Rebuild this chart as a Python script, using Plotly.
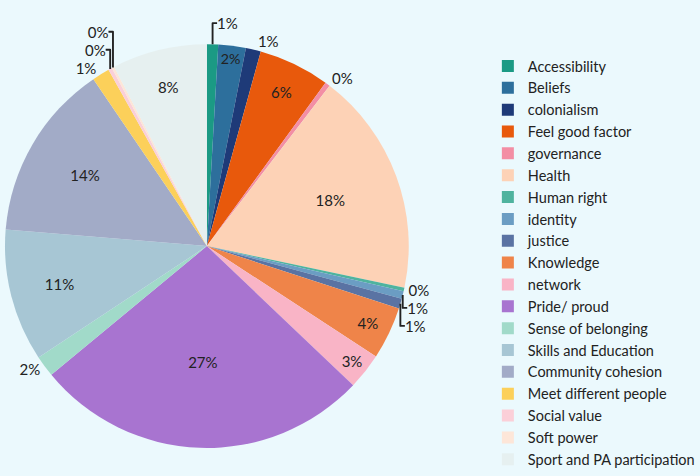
import plotly.graph_objects as go

categories = ["Accessibility", "Beliefs", "colonialism", "Feel good factor", "governance",
              "Health", "Human right", "identity", "justice", "Knowledge", "network",
              "Pride/ proud", "Sense of belonging", "Skills and Education",
              "Community cohesion", "Meet different people", "Social value",
              "Soft power", "Sport and PA participation"]
values = [0.9, 2.2, 1.2, 5.7, 0.4, 17.9, 0.3, 0.6, 0.8, 4.2, 2.9,
          26.9, 1.7, 10.6, 14.2, 1.4, 0.3, 0.2, 7.6]
colors = ["#1b9a84", "#2d6f9c", "#1e3a78", "#e8590c", "#f38ea4", "#fdd2b6",
          "#4fb39e", "#6b9dc3", "#5a73a3", "#ef8449", "#f9b4c6", "#a874d0",
          "#a1dac9", "#a7c6d4", "#a2abc7", "#fcd05a", "#fbcfd8", "#fde6d8",
          "#e6f0f0"]
positions = ["outside", "inside", "outside", "inside", "outside", "inside",
             "outside", "outside", "outside", "inside", "inside", "inside",
             "outside", "inside", "inside", "outside", "outside", "outside",
             "inside"]

BG = "#ebf9fd"
fig = go.Figure(go.Pie(
    labels=categories, values=values, sort=False, direction="clockwise",
    rotation=0,
    marker=dict(colors=colors, line=dict(width=0)),
    texttemplate="%{percent:.0%}", textposition=positions,
    insidetextorientation="horizontal",
    textfont=dict(family="Lato", size=15, color="#222222"),
    domain=dict(x=[0.0, 0.592], y=[0.050, 0.916]),
))
fig.update_layout(
    width=700, height=476,
    paper_bgcolor=BG, plot_bgcolor=BG,
    margin=dict(l=5, r=0, t=0, b=0),
    font=dict(family="Lato", color="#222222"),
    legend=dict(x=0.708, y=0.0, xanchor="left", yanchor="bottom",
                font=dict(size=14.5, family="Lato", color="#222222"),
                bgcolor="rgba(0,0,0,0)", itemclick=False),
)
fig.write_html("out.html", config={"displayModeBar": False},
               post_script="document.body.style.margin='0';document.body.style.background='%s';" % BG)
